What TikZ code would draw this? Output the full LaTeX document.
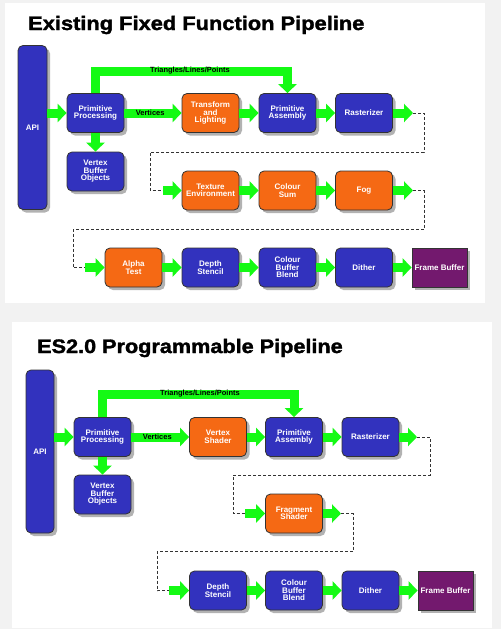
\documentclass[tikz,border=0pt]{standalone}
\usepackage{fontspec}
\setmainfont{Liberation Sans}
\newfontfamily\headfont[FakeBold=1.6]{Liberation Sans Bold}
\usetikzlibrary{arrows.meta,shadows}
\definecolor{stageblue}{RGB}{50,50,190}
\definecolor{stageorange}{RGB}{245,105,20}
\definecolor{flowgreen}{RGB}{20,250,20}
\definecolor{fbpurple}{RGB}{115,25,110}
\definecolor{pagegray}{RGB}{242,242,242}
\begin{document}
\begin{tikzpicture}[x=1pt,y=-1pt,
  stage/.style={draw=black!80,line width=0.8pt,rounded corners=5pt,fill=stageblue,text=white,
    font=\bfseries\fontsize{8}{7.5}\selectfont,align=center,minimum width=57pt,minimum height=39pt,
    inner sep=1pt,drop shadow={shadow xshift=3pt,shadow yshift=-3pt,fill=black!50,opacity=0.6}},
  fixed/.style={stage,fill=stageorange},
  fbuf/.style={stage,rounded corners=0pt,fill=fbpurple,minimum width=55pt},
  flow/.style={draw=flowgreen,line width=9pt,-{Triangle[length=9pt,width=18pt]}},
  link/.style={densely dashed,line width=0.6pt,black!80},
  tag/.style={text=black,font=\bfseries\fontsize{7.5}{8}\selectfont,inner sep=0pt},
  heading/.style={anchor=base west,inner sep=0pt,font=\headfont\fontsize{19.5}{20}\selectfont}]
\useasboundingbox (0,0) rectangle (501,629);
\fill[pagegray] (0,0) rectangle (501,629);
\fill[white] (5,3) rectangle (485,303);
\fill[white] (12,322) rectangle (492,628);

% fixed function pipeline
\node[heading] (head1) at (28,30) {\scalebox{1.12}[1]{Existing Fixed Function Pipeline}};
\node[stage,minimum width=29pt,minimum height=164pt] (api1) at (32.5,127.5) {API};
\node[stage] (pp1) at (95.5,113) {Primitive\\Processing};
\node[fixed] (tl1) at (210.5,113) {Transform\\and\\Lighting};
\node[stage] (pa1) at (287.5,113) {Primitive\\Assembly};
\node[stage] (ras1) at (364,113) {Rasterizer};
\node[stage] (vbo1) at (95.5,171.5) {Vertex\\Buffer\\Objects};
\node[fixed] (tex1) at (210.5,190.5) {Texture\\Environment};
\node[fixed] (cs1) at (287.5,190.5) {Colour\\Sum};
\node[fixed] (fog1) at (364,190.5) {Fog};
\node[fixed] (at1) at (133.5,267.5) {Alpha\\Test};
\node[stage] (ds1) at (210.5,267.5) {Depth\\Stencil};
\node[stage] (cbb1) at (287.5,267.5) {Colour\\Buffer\\Blend};
\node[stage] (dit1) at (364,267.5) {Dither};
\node[fbuf] (fb1) at (439.5,267.5) {Frame Buffer};
\coordinate (tri1) at (190,71);
\coordinate (r1) at (413,113);
\coordinate (t1) at (163,190.5);
\coordinate (f1) at (413,190.5);
\coordinate (a1) at (85,267.5);
\draw[flow] (api1.east |- pp1) -- (pp1.west);
\draw[flow] (pp1.north) |- (tri1) -| (pa1.north);
\node[tag] (tlab1) at (tri1) {Triangles/Lines/Points};
\draw[flow] (pp1) -- node[tag,pos=0.45] (vlab1) {Vertices} (tl1);
\draw[flow] (pp1) -- (vbo1);
\draw[flow] (tl1) -- (pa1);
\draw[flow] (pa1) -- (ras1);
\draw[flow] (ras1) -- (r1);
\draw[link] (r1) -| (424,152) -| (150,190.5) -- (t1);
\draw[flow] (t1) -- (tex1);
\draw[flow] (tex1) -- (cs1);
\draw[flow] (cs1) -- (fog1);
\draw[flow] (fog1) -- (f1);
\draw[link] (f1) -| (424,229) -| (73,267.5) -- (a1);
\draw[flow] (a1) -- (at1);
\draw[flow] (at1) -- (ds1);
\draw[flow] (ds1) -- (cbb1);
\draw[flow] (cbb1) -- (dit1);
\draw[flow] (dit1) -- (fb1);

% programmable pipeline
\node[heading] (head2) at (37,353) {\scalebox{1.11}[1]{ES2.0 Programmable Pipeline}};
\node[stage,minimum width=28pt,minimum height=163pt] (api2) at (40,451.5) {API};
\node[stage] (pp2) at (102.5,437) {Primitive\\Processing};
\node[fixed] (vs2) at (218,437) {Vertex\\Shader};
\node[stage] (pa2) at (294,437) {Primitive\\Assembly};
\node[stage] (ras2) at (370.5,437) {Rasterizer};
\node[stage] (vbo2) at (102.5,494.5) {Vertex\\Buffer\\Objects};
\node[fixed] (fs2) at (294,513.5) {Fragment\\Shader};
\node[stage] (ds2) at (218,590.5) {Depth\\Stencil};
\node[stage] (cbb2) at (294,590.5) {Colour\\Buffer\\Blend};
\node[stage] (dit2) at (370.5,590.5) {Dither};
\node[fbuf] (fb2) at (445.5,590.5) {Frame Buffer};
\coordinate (tri2) at (200,394);
\coordinate (r2) at (417,437);
\coordinate (s2) at (245,513.5);
\coordinate (g2) at (341,513.5);
\coordinate (d2) at (169,590.5);
\draw[flow] (api2.east |- pp2) -- (pp2.west);
\draw[flow] (pp2.north) |- (tri2) -| (pa2.north);
\node[tag] (tlab2) at (tri2) {Triangles/Lines/Points};
\draw[flow] (pp2) -- node[tag,pos=0.45] (vlab2) {Vertices} (vs2);
\draw[flow] (pp2) -- (vbo2);
\draw[flow] (vs2) -- (pa2);
\draw[flow] (pa2) -- (ras2);
\draw[flow] (ras2) -- (r2);
\draw[link] (r2) -| (430,475) -| (233,513.5) -- (s2);
\draw[flow] (s2) -- (fs2);
\draw[flow] (fs2) -- (g2);
\draw[link] (g2) -| (353,551) -| (157,590.5) -- (d2);
\draw[flow] (d2) -- (ds2);
\draw[flow] (ds2) -- (cbb2);
\draw[flow] (cbb2) -- (dit2);
\draw[flow] (dit2) -- (fb2);
\end{tikzpicture}
\end{document}
